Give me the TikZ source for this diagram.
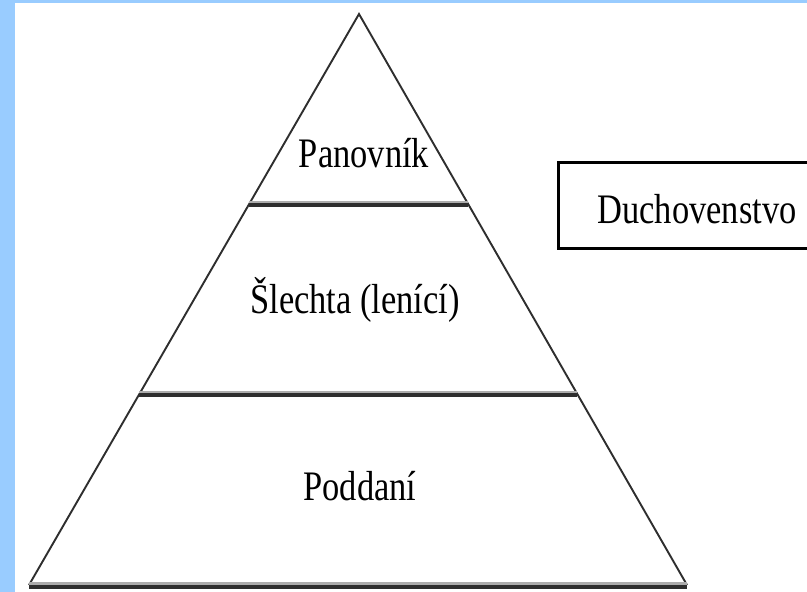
\documentclass[tikz,border=0pt]{standalone}
\usepackage{fontspec}
\setmainfont{Liberation Serif}
\usetikzlibrary{calc}
\definecolor{frameblue}{HTML}{99CCFF}
\definecolor{lineDark}{HTML}{2E2E2E}
\tikzset{
  side/.style={draw=lineDark, line width=1.9pt},
  levelline/.style={draw=lineDark, line width=4pt},
  levelhi/.style={draw=gray!65, line width=2.4pt},
  lbl/.style={anchor=base, inner sep=0pt, font=\fontsize{42}{50}\selectfont},
  boxline/.style={draw=black, line width=3pt}
}
\newcommand{\sq}[1]{\scalebox{0.82}[1]{#1}}
\begin{document}
\begin{tikzpicture}[x=1pt,y=-1pt]
\useasboundingbox (0,0) rectangle (807,592);
\clip (0,0) rectangle (807,592);
\fill[frameblue] (0,0) rectangle (807,592);
\fill[white] (15,3) rectangle (807,592);
% triangle
\coordinate (A) at (359,14);
\coordinate (L) at (29,585);
\coordinate (R) at (687,585);
\coordinate (l1) at ($(A)!0.3336!(L)$);
\coordinate (r1) at ($(A)!0.3336!(R)$);
\coordinate (l2) at ($(A)!0.6655!(L)$);
\coordinate (r2) at ($(A)!0.6655!(R)$);
\draw[side] (L) -- (A) -- (R);
\draw[levelhi] ($(l1)+(0,-2.3)$) -- ($(r1)+(0,-2.3)$);
\draw[levelline] ($(l1)+(0,0.8)$) -- ($(r1)+(0,0.8)$);
\draw[levelhi] ($(l2)+(0,-2.3)$) -- ($(r2)+(0,-2.3)$);
\draw[levelline] ($(l2)+(0,1.3)$) -- ($(r2)+(0,1.3)$);
\draw[levelhi] ($(L)+(0,-1.7)$) -- ($(R)+(0,-1.7)$);
\draw[levelline] ($(L)+(0,2)$) -- ($(R)+(0,2)$);
% labels
\node[lbl] (panovnik) at (364,167) {\sq{Panovník}};
\node[lbl] (slechta) at (355,313) {\sq{Šlechta (lenící)}};
\node[lbl] (poddani) at (360,500) {\sq{Poddaní}};
% box
\coordinate (b1) at (558,162);
\coordinate (b2) at (840,248);
\draw[boxline] (b1) rectangle (b2);
\node[lbl] (duch) at (697,223) {\sq{Duchovenstvo}};
\end{tikzpicture}
\end{document}
